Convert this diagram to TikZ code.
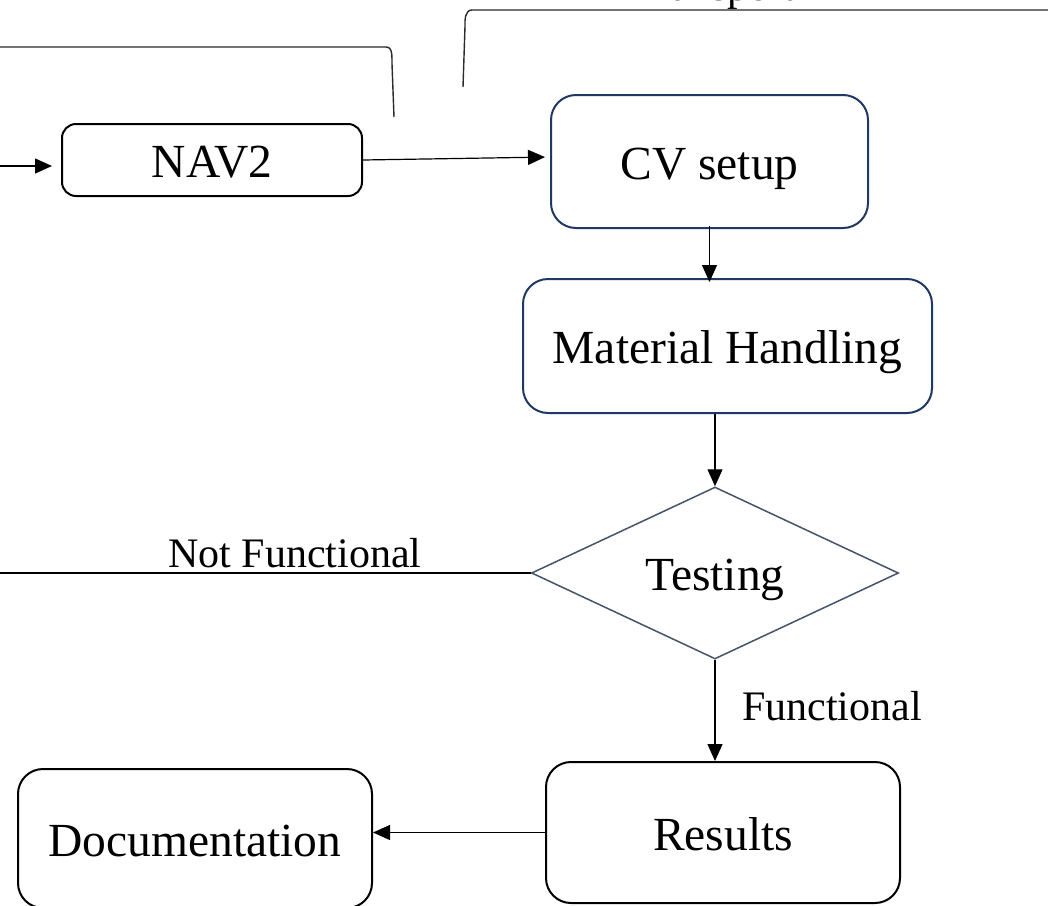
\documentclass[tikz,border=0pt]{standalone}
\usepackage{fontspec}
\setmainfont{Liberation Serif}
\usetikzlibrary{shapes.geometric,arrows.meta,calc}
\definecolor{navy}{HTML}{1F3864}
\definecolor{slate}{HTML}{44546A}
\definecolor{bracegray}{HTML}{2A2A2A}
\tikzset{
  boxfont/.style={font=\fontsize{47.5}{50}\selectfont},
  lblfont/.style={font=\fontsize{42}{44}\selectfont},
  box/.style={draw, line width=2pt, boxfont, align=center, inner sep=0pt,
    text height=35pt, text depth=0pt},
  decision/.style={shape=diamond, draw=slate, line width=1.5pt, boxfont,
    inner sep=0pt, aspect=2.13, text height=35pt, text depth=0pt},
  link/.style={line width=1.2pt},
  arr/.style={link, -{Triangle[length=17pt,width=15pt]}},
  brace/.style={line width=1.4pt, draw=bracegray},
  lbl/.style={lblfont, inner sep=0pt}
}
\begin{document}
\begin{tikzpicture}[x=1pt,y=-1pt]
\useasboundingbox (0,0) rectangle (1048,905);
\fill[white] (0,0) rectangle (1048,905);

% process boxes
\node[box, rounded corners=14pt, minimum width=300pt, minimum height=72pt] (nav) at (212,160) {NAV2};
\node[box, draw=navy, rounded corners=25pt, minimum width=317pt, minimum height=133pt] (cv) at (709.5,161.5) {CV setup};
\node[box, draw=navy, rounded corners=25pt, minimum width=409pt, minimum height=134pt] (mh) at (727.5,346) {Material Handling};
\node[decision, minimum width=367pt, minimum height=172pt] (test) at (715,573) {Testing};
\node[box, rounded corners=25pt, minimum width=354pt, minimum height=141pt] (res) at (723,832.5) {Results};
\node[box, rounded corners=25pt, minimum width=354pt, minimum height=139pt] (doc) at (195,838.5) {Documentation};

% group braces along the top
\draw[brace] (0,47) -- (386,47) to[out=0,in=92] (392,64) -- (394,117);
\draw[brace] (463,87) -- (465,26) to[out=92,in=180] (472,10) -- (1048,10);
\node[lbl, anchor=base west] (grp) at (633,0) {Transport};

% connectors
\coordinate (src) at (0,166);
\draw[arr, shorten >=9pt] (src) -- (src -| nav.west);
\draw[arr, shorten >=5pt] (nav.east) -- ([yshift=4.5pt]cv.west);
\draw[arr] ([yshift=3pt]cv.south) -- ([yshift=-4pt]cv.south |- mh.north);
\draw[arr] (mh.south -| test.north) -- (test.north);
\draw[arr] (test.south) -- (test.south |- res.north);
\coordinate (fail) at (0,573);
\draw[link] (test.west) -- (fail);
\draw[arr] (res.west) -- (res.west -| doc.east);

% branch labels
\node[lbl, anchor=base] (nf) at (295,567) {Not Functional};
\node[lbl, anchor=base west] (ok) at (742,720) {Functional};
\end{tikzpicture}
\end{document}
